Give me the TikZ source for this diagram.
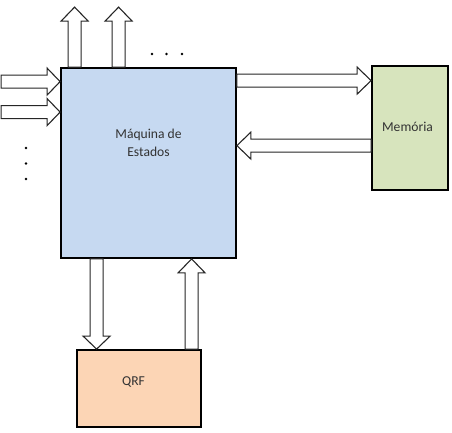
\documentclass[tikz,border=0pt]{standalone}
\usepackage{fontspec}
\setmainfont{Carlito}
\usetikzlibrary{calc}
\definecolor{mainblue}{RGB}{198,217,241}
\definecolor{memgreen}{RGB}{215,228,189}
\definecolor{qrforange}{RGB}{252,213,181}
\tikzset{
  blockbox/.style={draw=black, line width=1.8bp, inner sep=0pt},
  blk/.style={draw=black!85, line width=1.1bp, fill=white, line join=miter},
  lbl/.style={font=\fontsize{13.6bp}{18bp}\selectfont, text=black!80, align=center, inner sep=0pt},
  dot/.style={fill=black, circle, inner sep=0pt, minimum size=2.6bp}
}
\newcommand\blockarrow[3]{% from #1 to #2, head length #3
  \coordinate (ba-h) at ($(#2)!#3!(#1)$);
  \draw[blk] ($(#1)!6.5bp!90:(#2)$) -- ($(ba-h)!6.5bp!90:(#2)$) -- ($(ba-h)!13.5bp!90:(#2)$) -- (#2)
    -- ($(ba-h)!13.5bp!-90:(#2)$) -- ($(ba-h)!6.5bp!-90:(#2)$) -- ($(#1)!6.5bp!-90:(#2)$) -- cycle;}
\begin{document}
\begin{tikzpicture}[x=1bp, y=-1bp]
\useasboundingbox (0,0) rectangle (452,432);
% boxes
\node[blockbox, fill=mainblue, minimum width=175bp, minimum height=190bp] (m) at (148.5,163) {};
\node[blockbox, fill=memgreen, minimum width=76bp, minimum height=124bp] (mem) at (410,128) {};
\node[blockbox, fill=qrforange, minimum width=124bp, minimum height=77bp] (q) at (139,388.5) {};
% texts
\node[lbl] (mt) at ($(m.center)+(0,-20)$) {Máquina de\\Estados};
\node[lbl] (memt) at ($(mem.center)+(-2.5,-1)$) {Memória};
\node[lbl] (qt) at ($(q.center)+(-5.5,-7)$) {QRF};
% connector end points
\coordinate (u1s) at ($(m.north west)+(14.5,0)$);
\coordinate (u1e) at ($(u1s)+(0,-60)$);
\coordinate (u2s) at ($(m.north west)+(58.5,0)$);
\coordinate (u2e) at ($(u2s)+(0,-60)$);
\coordinate (i1e) at ($(m.north west)+(0,14.5)$);
\coordinate (i1s) at ($(i1e)+(-59,0)$);
\coordinate (i2e) at ($(m.north west)+(0,45)$);
\coordinate (i2s) at ($(i2e)+(-59,0)$);
\coordinate (r1s) at ($(m.north east)+(0,13.5)$);
\coordinate (r1e) at (mem.west |- r1s);
\coordinate (r2s) at ($(mem.north west)+(0,80.5)$);
\coordinate (r2e) at (m.east |- r2s);
\coordinate (d1s) at ($(m.south west)+(36.5,0)$);
\coordinate (d1e) at (q.north -| d1s);
\coordinate (d2s) at ($(q.north west)+(115.5,0)$);
\coordinate (d2e) at (m.south -| d2s);
% block arrows
\blockarrow{u1s}{u1e}{14bp}
\blockarrow{u2s}{u2e}{14bp}
\blockarrow{i1s}{i1e}{13bp}
\blockarrow{i2s}{i2e}{13bp}
\blockarrow{r1s}{r1e}{14bp}
\blockarrow{r2s}{r2e}{14bp}
\blockarrow{d1s}{d1e}{13bp}
\blockarrow{d2s}{d2e}{14bp}
% dots
\node[dot] (h1) at (152,54) {};
\node[dot] (h2) at (166.5,54) {};
\node[dot] (h3) at (182,54) {};
\node[dot] (v1) at (26,148) {};
\node[dot] (v2) at (26,163.5) {};
\node[dot] (v3) at (26,179) {};
\end{tikzpicture}
\end{document}
